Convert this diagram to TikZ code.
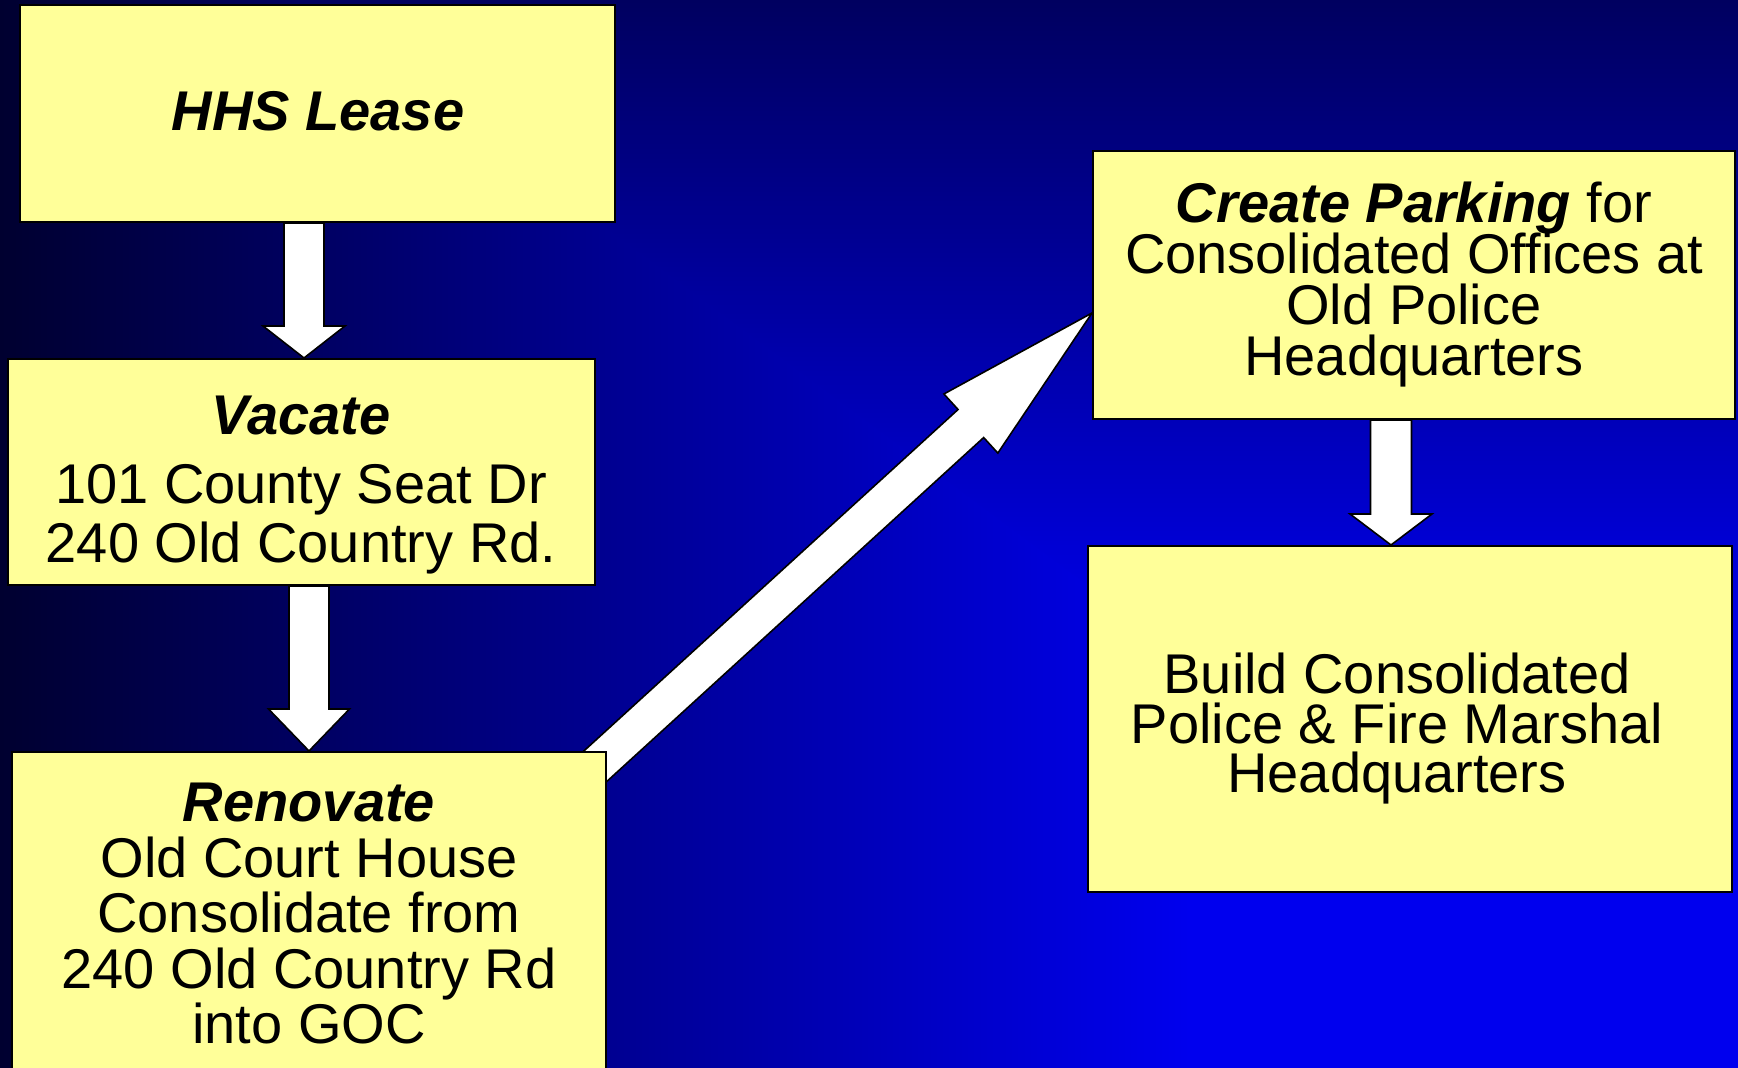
\documentclass[tikz,border=0pt]{standalone}
\usepackage{fontspec}
\setmainfont{Liberation Sans}
\usetikzlibrary{calc}

\definecolor{bgdark}{RGB}{0,0,48}
\definecolor{bgtop}{RGB}{0,0,96}
\definecolor{bgbright}{RGB}{0,0,238}
\definecolor{boxyellow}{RGB}{255,255,153}

\pgfdeclarelayer{bg}
\pgfdeclarelayer{arrows}
\pgfsetlayers{bg,arrows,main}

% centred lines with a fixed baseline pitch; the box baseline is the first line
\newcommand\textlines[2]{\vtop{\baselineskip=#1\lineskiplimit=-\maxdimen\lineskip=0pt
  \halign{\hfil##\hfil\cr#2\crcr}}}

% block arrow: #1 tail, #2 tip, #3 head length, #4 shaft half width, #5 head half width
\newcommand\blockarrow[5]{%
  \coordinate (ba-q) at ($(#2)!#3!(#1)$);
  \draw[arrowbody] ($(#1)!#4!90:(#2)$) -- ($(ba-q)!#4!-90:(#1)$) -- ($(ba-q)!#5!-90:(#1)$)
    -- (#2) -- ($(ba-q)!#5!90:(#1)$) -- ($(ba-q)!#4!90:(#1)$) -- ($(#1)!#4!-90:(#2)$) -- cycle;}

\begin{document}
\begin{tikzpicture}[x=1pt,y=1pt,
  box/.style={rectangle, draw=black, line width=2pt, fill=boxyellow, inner sep=0pt},
  arrowbody/.style={draw=black, line width=1.6pt, fill=white, line join=miter},
  txt/.style={inner sep=0pt, anchor=base, text=black, font=\fontsize{56}{59}\selectfont}]

\useasboundingbox (0,0) rectangle (1738,1068);

% corner gradient: dark at the left and top, bright blue towards the lower right
\begin{pgfonlayer}{bg}
  \shade[left color=bgdark, right color=bgbright] (0,0) rectangle (1190,1068);
  \fill[bgbright] (1189,0) rectangle (1738,1068);
  \begin{scope}
    \clip (300,1068) -- (1738,1068) -- (1738,0) -- cycle;
    \shade[top color=bgtop, bottom color=bgbright] (0,398) rectangle (1738,1068);
    \fill[bgbright] (0,0) rectangle (1738,399);
  \end{scope}
\end{pgfonlayer}

% boxes
\node[box, minimum width=595pt, minimum height=217pt] (hhs)   at (317.5,954.5) {};
\node[box, minimum width=587pt, minimum height=226pt] (vac)   at (301,596) {};
\node[box, minimum width=594pt, minimum height=333pt] (reno)  at (309,149.5) {};
\node[box, minimum width=642pt, minimum height=268pt] (park)  at (1414,783) {};
\node[box, minimum width=644pt, minimum height=346pt] (build) at (1410,349) {};

% box texts
\node[txt] (hhsT) at (318,937) {\textbf{\textit{HHS Lease}}};
\node[txt] (vacT) at (301,633.5) {\textlines{59pt}{\textbf{\textit{Vacate}}\cr
  \noalign{\vskip10.5pt}101 County Seat Dr\cr 240 Old Country Rd.}};
\node[txt] (renoT) at (309,246) {\textlines{55.5pt}{\textbf{\textit{Renovate}}\cr
  Old Court House\cr Consolidate from\cr 240 Old Country Rd\cr into GOC}};
\node[txt, font=\fontsize{56}{51}\selectfont] (parkT) at (1414,845) {\textlines{50.7pt}{%
  \textbf{\textit{Create Parking}} for\cr Consolidated Offices at\cr Old Police\cr Headquarters}};
\node[txt] (buildT) at (1397,374) {\textlines{49.5pt}{Build Consolidated\cr
  Police \& Fire Marshal\cr Headquarters}};

% connectors
\begin{pgfonlayer}{arrows}
  \coordinate (a1s) at ([xshift=-13.5pt]hhs.south);
  \coordinate (a1t) at (a1s |- vac.north);
  \coordinate (a2t) at (reno.north);
  \coordinate (a2s) at (a2t |- vac.south);
  \coordinate (a3s) at ([shift={(-41pt,-42pt)}]reno.north east);
  \coordinate (a3t) at ([yshift=-28pt]park.west);
  \coordinate (a4s) at ([xshift=-23pt]park.south);
  \coordinate (a4t) at (a4s |- build.north);
  \blockarrow{a1s}{a1t}{32pt}{20pt}{41pt}
  \blockarrow{a2s}{a2t}{42pt}{20pt}{40.5pt}
  \blockarrow{a3s}{a3t}{164pt}{19pt}{40pt}
  \blockarrow{a4s}{a4t}{31pt}{20.5pt}{41pt}
\end{pgfonlayer}
\end{tikzpicture}
\end{document}
